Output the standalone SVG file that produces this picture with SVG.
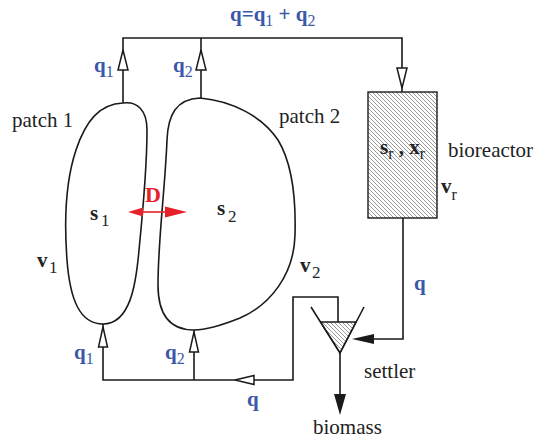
<svg xmlns="http://www.w3.org/2000/svg" width="537" height="440" viewBox="0 0 537 440">
<style>
.ln{fill:none;stroke:#1a1a1a;stroke-width:1.6}
.oa{fill:#fff;stroke:#1a1a1a;stroke-width:1.5}
.fa{fill:#1a1a1a;stroke:none}
.t{font-family:"Liberation Serif",serif;font-size:21px;fill:#222}
.b{font-family:"Liberation Serif",serif;font-weight:bold;font-size:21px;fill:#222}
.bl{font-family:"Liberation Serif",serif;font-weight:bold;font-size:21px;fill:#3b58a8}
.sub{font-weight:normal;font-size:16px}
</style>
<defs>
<pattern id="hatch" patternUnits="userSpaceOnUse" width="4" height="4">
<path d="M-1,-1 L5,5 M-1,3 L1,5 M3,-1 L5,1" stroke="#555" stroke-width="0.6"/>
</pattern>
</defs>
<rect width="537" height="440" fill="#fff"/>
<g id="patch1">
<path class="ln" d="M123,103 C137,101 147,110 147,130 C147,170 142,220 139,250 C136,285 130,324 103,324 C80,324 70,300 67,260 C64,220 66,180 76,150 C86,120 100,104 123,103 Z"/>
<text class="t" x="12" y="127">patch 1</text>
<text class="b" x="90" y="220">s</text><text class="t" x="101" y="226" style="font-size:17px">1</text>
<text class="b" x="37" y="267">v</text><text class="t" x="49" y="273" style="font-size:17px">1</text>
</g>
<g id="patch2">
<path class="ln" d="M200,98 C232,101 262,116 278,140 C292,163 296,200 295,235 C294,275 270,305 240,318 C220,326 205,330 194,330 C172,330 158,318 158,285 C158,240 165,190 167,140 C168,115 176,99 200,98 Z"/>
<text class="t" x="279" y="123">patch 2</text>
<text class="b" x="217" y="215">s</text><text class="t" x="228" y="222" style="font-size:17px">2</text>
<text class="b" x="300" y="272">v</text><text class="t" x="312" y="278" style="font-size:17px">2</text>
</g>
<g id="diffusion">
<line x1="140" y1="212" x2="168" y2="212" stroke="#e8202a" stroke-width="1.6"/>
<polygon points="128,212 143,207.5 143,216.5" fill="#e8202a"/>
<polygon points="187,212 165,206.5 165,217.5" fill="#e8202a"/>
<text x="145" y="202" style="font-family:'Liberation Serif',serif;font-weight:bold;font-size:22px;fill:#e8202a">D</text>
</g>
<g id="bioreactor">
<rect x="368" y="92" width="69" height="126" fill="url(#hatch)" stroke="#1a1a1a" stroke-width="1.4"/>
<text class="b" x="380" y="154">s<tspan class="sub" dy="5">r</tspan><tspan dy="-5"> , x</tspan><tspan class="sub" dy="5">r</tspan></text>
<text class="t" x="448" y="157">bioreactor</text>
<text class="b" x="441" y="193">v<tspan class="sub" dy="7">r</tspan></text>
</g>
<g id="settler">
<polygon points="320.5,322 356,322 340,353" fill="url(#hatch)" stroke="#1a1a1a" stroke-width="1.4"/>
<polyline class="ln" points="311,307 340,353 364,307"/>
<text class="t" x="364" y="378">settler</text>
</g>
<g id="biomass">
<text class="t" x="313" y="434">biomass</text>
</g>
<g id="connectors">
<polyline class="ln" points="123,103 123,38 402,38 402,92"/>
<line class="ln" x1="201" y1="38" x2="201" y2="98"/>
<polygon class="oa" points="123,50 118,70 128,70"/>
<polygon class="oa" points="201,50 196,70 206,70"/>
<polygon class="oa" points="402,88 397,68 407,68"/>
<polyline class="ln" points="403,218 403,339 372,339"/>
<polygon class="fa" points="352,339 374,334 374,344"/>
<polyline class="ln" points="338,322 338,297 293,297 293,380 103,380 103,324"/>
<line class="ln" x1="194" y1="380" x2="194" y2="330"/>
<polygon class="oa" points="103,327 98.5,347 107.5,347"/>
<polygon class="oa" points="194,332 189.5,352 198.5,352"/>
<polygon class="oa" points="235,380 254,375.5 254,384.5"/>
<line class="ln" x1="340" y1="353" x2="340" y2="396"/>
<polygon class="fa" points="340,415 334,394 346,394"/>
</g>
<g id="labels">
<text class="bl" x="230" y="21">q=q<tspan class="sub" dy="5">1</tspan><tspan dy="-5"> + q</tspan><tspan class="sub" dy="5">2</tspan></text>
<text class="bl" x="94" y="72">q<tspan class="sub" dy="5">1</tspan></text>
<text class="bl" x="173" y="72">q<tspan class="sub" dy="5">2</tspan></text>
<text class="bl" x="414" y="290">q</text>
<text class="bl" x="74" y="359">q<tspan class="sub" dy="5">1</tspan></text>
<text class="bl" x="165" y="359">q<tspan class="sub" dy="5">2</tspan></text>
<text class="bl" x="247" y="406">q</text>
</g>
</svg>
